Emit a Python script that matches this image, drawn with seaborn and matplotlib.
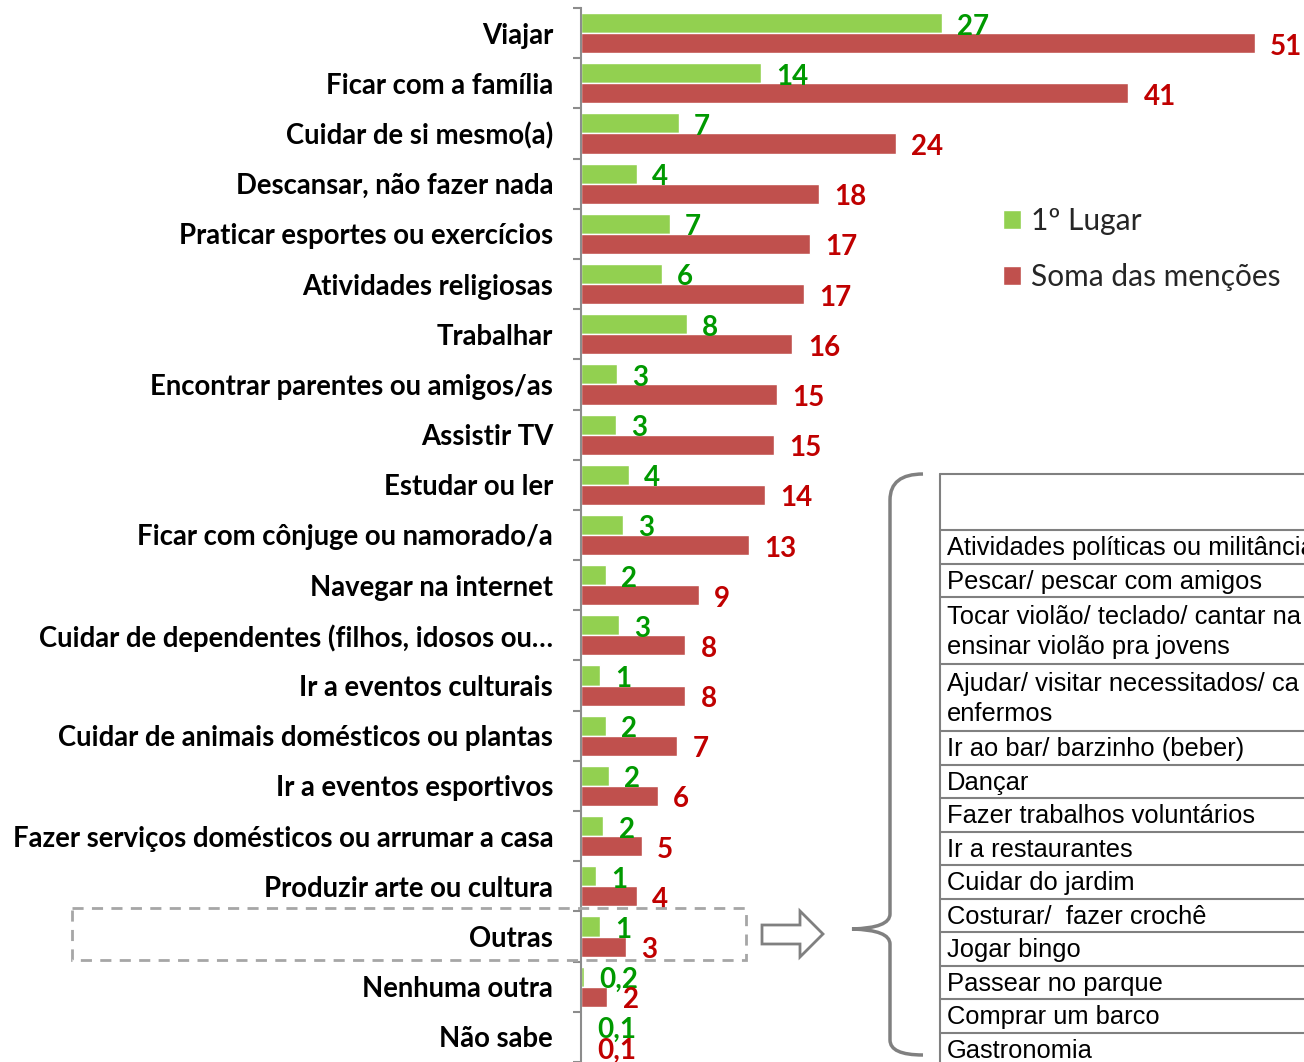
import matplotlib
matplotlib.use("Agg")
import matplotlib.pyplot as plt
from matplotlib.patches import Rectangle, Polygon, PathPatch
from matplotlib.path import Path
import seaborn as sns
import pandas as pd
import numpy as np

# ── Data ──────────────────────────────────────────────────────────────────────
ATIVIDADES = [
    "Viajar", "Ficar com a família", "Cuidar de si mesmo(a)",
    "Descansar, não fazer nada", "Praticar esportes ou exercícios",
    "Atividades religiosas", "Trabalhar", "Encontrar parentes ou amigos/as",
    "Assistir TV", "Estudar ou ler", "Ficar com cônjuge ou namorado/a",
    "Navegar na internet", "Cuidar de dependentes (filhos, idosos ou…",
    "Ir a eventos culturais", "Cuidar de animais domésticos ou plantas",
    "Ir a eventos esportivos", "Fazer serviços domésticos ou arrumar a casa",
    "Produzir arte ou cultura", "Outras", "Nenhuma outra", "Não sabe",
]
PRIMEIRO = [27.3, 13.6, 7.4, 4.2, 6.7, 6.1, 8.0, 2.7, 2.65, 3.6, 3.2,
            1.9, 2.9, 1.4, 1.9, 2.1, 1.7, 1.1, 1.4, 0.2, 0.1]
SOMA = [51.0, 41.4, 23.8, 18.0, 17.3, 16.9, 16.0, 14.8, 14.6, 13.9, 12.7,
        8.9, 7.9, 7.9, 7.3, 5.8, 4.6, 4.2, 3.4, 2.0, 0.1]
SERIES = ["1º Lugar", "Soma das menções"]

# rows of the "Outras" table (text, number of lines)
OUTRAS = [
    ("Atividades políticas ou militância", 1),
    ("Pescar/ pescar com amigos", 1),
    ("Tocar violão/ teclado/ cantar na\nensinar violão pra jovens", 2),
    ("Ajudar/ visitar necessitados/ ca\nenfermos", 2),
    ("Ir ao bar/ barzinho (beber)", 1),
    ("Dançar", 1),
    ("Fazer trabalhos voluntários", 1),
    ("Ir a restaurantes", 1),
    ("Cuidar do jardim", 1),
    ("Costurar/  fazer crochê", 1),
    ("Jogar bingo", 1),
    ("Passear no parque", 1),
    ("Comprar um barco", 1),
    ("Gastronomia", 1),
]

GREEN, RED = "#92D050", "#C0504D"
GREEN_TXT, RED_TXT = "#009900", "#C00000"
GRAY = "#8C8C8C"


def fmt(v):
    if v < 1:
        return f"{v:.1f}".replace(".", ",")
    return str(int(round(v)))


df = pd.DataFrame({
    "atividade": ATIVIDADES * 2,
    "valor": PRIMEIRO + SOMA,
    "serie": [SERIES[0]] * len(ATIVIDADES) + [SERIES[1]] * len(ATIVIDADES),
})

# ── Figure ────────────────────────────────────────────────────────────────────
sns.set_theme(style="white")
plt.rcParams["font.family"] = ["Lato", "DejaVu Sans"]

W, H = 1304, 1062
fig = plt.figure(figsize=(W / 100, H / 100), dpi=100)

X0, X51 = 581, 1255
XMAX = 55
px_unit = (X51 - X0) / 51
ax = fig.add_axes([X0 / W, 0, XMAX * px_unit / W, (H - 8) / H])

sns.barplot(data=df, x="valor", y="atividade", hue="serie", orient="h",
            palette=[GREEN, RED], saturation=1, width=0.8, errorbar=None,
            ax=ax)
ax.set_xlim(0, XMAX)
ax.set_ylim(len(ATIVIDADES) - 0.5, -0.5)

# value labels just right of each bar, a touch below the bar centre
for cont, vals, col in zip(ax.containers, [PRIMEIRO, SOMA], [GREEN_TXT, RED_TXT]):
    for bar, v in zip(cont.patches, vals):
        ax.annotate(fmt(v), (bar.get_width(), bar.get_y() + bar.get_height() / 2),
                    xytext=(11, -2.5), textcoords="offset points",
                    ha="left", va="center", color=col, fontsize=20,
                    fontweight="bold", annotation_clip=False)

for s in ["top", "right", "bottom"]:
    ax.spines[s].set_visible(False)
ax.spines["left"].set_color(GRAY)
ax.spines["left"].set_linewidth(1.5)
ax.set_xticks([])
ax.set_xlabel("")
ax.set_ylabel("")
ax.set_yticks(np.arange(-0.5, len(ATIVIDADES), 1), minor=True)
ax.tick_params(axis="y", which="minor", length=6, width=1.5, color=GRAY, left=True)
ax.tick_params(axis="y", which="major", length=0, pad=20)
for t in ax.get_yticklabels():
    t.set_fontsize(19.8)
    t.set_fontweight("bold")
    t.set_color("black")

handles, labels = ax.get_legend_handles_labels()
ax.legend(handles, labels, loc="upper left", bbox_to_anchor=(976 / W, 1 - 180 / H),
          bbox_transform=fig.transFigure, frameon=False, fontsize=21.5,
          handlelength=0.6, handleheight=0.6, handletextpad=0.35, labelspacing=0.95)

# ── Overlay: dashed box, arrow, brace and the "Outras" table ──────────────────
ov = fig.add_axes([0, 0, 1, 1])
ov.set_xlim(0, W)
ov.set_ylim(H, 0)
ov.axis("off")

ov.add_patch(Rectangle((72, 908), 674, 52, fill=False, ec="#A6A6A6", lw=2,
                       ls=(0, (4, 3))))
ov.add_patch(Polygon([(762, 925), (800, 925), (800, 911), (823, 934),
                      (800, 957), (800, 944), (762, 944)], closed=True,
                     fc="white", ec="#808080", lw=2))

brace = Path(
    [(923, 474), (890, 474), (890, 500), (890, 914), (890, 928), (852, 929),
     (890, 930), (890, 944), (890, 1040), (890, 1055), (923, 1055)],
    [Path.MOVETO, Path.CURVE3, Path.CURVE3, Path.LINETO, Path.CURVE3,
     Path.CURVE3, Path.CURVE3, Path.CURVE3, Path.LINETO, Path.CURVE3,
     Path.CURVE3])
ov.add_patch(PathPatch(brace, fill=False, ec="#808080", lw=2.5))

TX = 940
TOP, HEAD_BOT, ROW = 474, 530, 33.5
ov.plot([TX, TX], [TOP, H + 5], color="#808080", lw=1.5, clip_on=False)
ov.plot([TX, W + 5], [TOP, TOP], color="#808080", lw=1.5, clip_on=False)
y = HEAD_BOT
ov.plot([TX, W + 5], [y, y], color="#808080", lw=1.5, clip_on=False)
for txt, n in OUTRAS:
    ov.text(TX + 7, y + ROW * n / 2 + 1.5, txt, ha="left", va="center",
            fontsize=18.4, family="Liberation Sans", color="black",
            linespacing=1.3)
    y += ROW * n
    ov.plot([TX, W + 5], [y, y], color="#808080", lw=1.5, clip_on=False)

fig.savefig("out.png", dpi=100)
